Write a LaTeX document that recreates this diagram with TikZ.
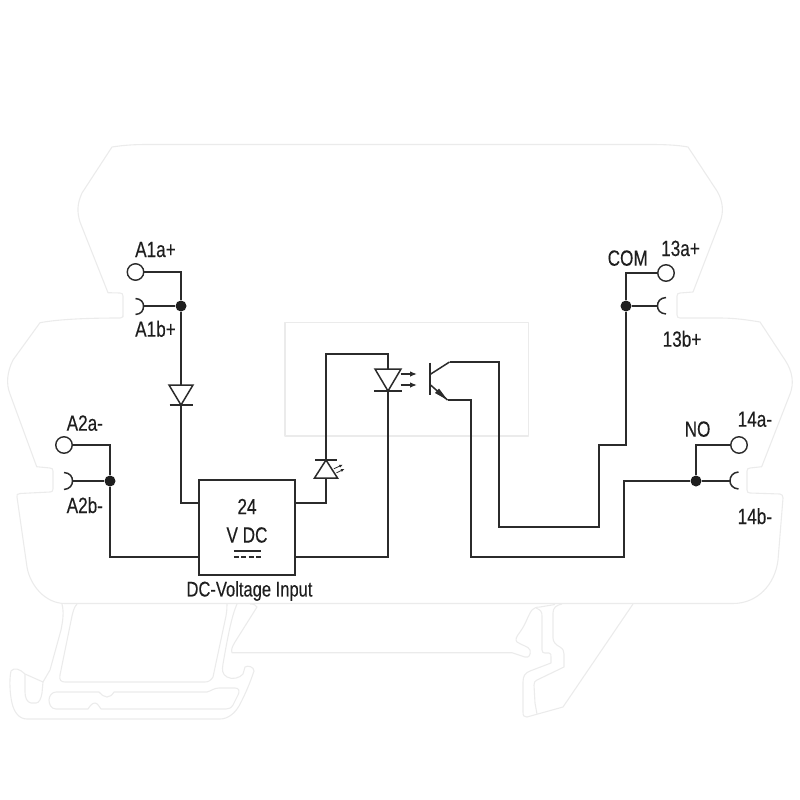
\documentclass[tikz,border=0pt]{standalone}
\usepackage{fontspec}
\setmainfont[FakeStretch=0.78,FakeBold=0.25]{Liberation Sans}
\usetikzlibrary{arrows.meta}
\definecolor{ghost}{HTML}{EBEBEB}
\definecolor{ink}{HTML}{2B2B2B}
\definecolor{txt}{HTML}{1E1E1E}
\tikzset{
  wire/.style={draw=ink,line width=1.5pt,line join=miter},
  thin wire/.style={draw=ink,line width=1.5pt},
  ghostline/.style={draw=ghost,line width=1.1pt,line join=round},
  term/.style={circle,draw=ink,line width=1.4pt,fill=white,minimum size=16.5pt,inner sep=0pt},
  junction/.style={circle,fill=txt,minimum size=11pt,inner sep=0pt},
  lab/.style={anchor=base west,inner sep=0pt,text=txt,font=\fontsize{22}{22}\selectfont},
  ray/.style={draw=ink,line width=1.3pt,-{Latex[length=7pt,width=5.5pt]}},
  tinyray/.style={draw=ink,line width=.8pt,-{Latex[length=4pt,width=3pt]}}
}
\begin{document}
\begin{tikzpicture}[x=1pt,y=-1pt]
\useasboundingbox (0,0) rectangle (800,800);
% housing outline
\draw[ghostline] (123,317) -- (123,296) .. controls (123,294) and (122,293) .. (120,293) -- (108,292.7)
  -- (80,222) .. controls (77,212) and (77,204) .. (82,193) -- (112,147)
  .. controls (125,145) and (135,144.5) .. (148,144.5) -- (650,144.5)
  .. controls (665,144.5) and (677,145) .. (688,147) -- (717,191)
  .. controls (723,201) and (724,212) .. (720,222) -- (693,292) -- (680,293)
  .. controls (678,293) and (677,294) .. (677,296) -- (677,315) .. controls (677,317) and (678,318) .. (680,318)
  -- (720,318) .. controls (735,318) and (748,320) .. (760,322) -- (785,360)
  .. controls (793,372) and (794,384) .. (790,394) -- (761.7,466.7) -- (750,468)
  .. controls (748,468) and (747,469) .. (747,471) -- (747,490) .. controls (747,492) and (748,493) .. (750,493)
  -- (780,494) .. controls (782,494) and (783,496) .. (783,498) -- (778,560)
  .. controls (775,585) and (757,603.5) .. (733,603.5) -- (65,603.5)
  .. controls (45,603.5) and (30,585) .. (27,567) -- (17,497) .. controls (16.5,495) and (17,493.5) .. (20,493.5)
  -- (50,492) .. controls (52,492) and (53,491) .. (53,489) -- (53,471) .. controls (53,469) and (52,468) .. (50,468)
  -- (36.7,466.7) -- (10,394) .. controls (6,384) and (7,372) .. (13,360) -- (40,322.7)
  .. controls (60,319) and (90,318) .. (120,318) .. controls (122,318) and (123,317) .. (123,315);
% inner window
\draw[ghostline] (285,322.5) rectangle (528.5,436);
% foot, left
\draw[ghostline] (62,604) .. controls (64,612) and (63,620) .. (61,630) -- (50,670) -- (43,682)
  -- (25,674) .. controls (20,669) and (14,667) .. (11,671) .. controls (9,680) and (10,695) .. (12,703)
  .. controls (14,712) and (19,719) .. (27,719) -- (220,719) .. controls (228,719) and (235,713) .. (239,706)
  .. controls (245,695) and (250,683) .. (254,671) .. controls (254,667) and (248,665) .. (245,667)
  .. controls (244,669) and (244,672) .. (243,674) .. controls (240,678) and (232,680) .. (227,677)
  .. controls (222,674) and (222,670) .. (223,664) .. controls (228,635) and (232,615) .. (237,604);
\draw[ghostline] (25,674) -- (25,692) .. controls (25,698) and (27,702) .. (31,703) -- (36,703)
  .. controls (39,703) and (41,699) .. (42,693) -- (43,682);
\draw[ghostline] (77,604) .. controls (74,607) and (73,612) .. (72,616) -- (60,675)
  .. controls (59,680) and (61,682) .. (65,682) -- (205,682) .. controls (209,682) and (211,680) .. (213,677)
  -- (226,616) .. controls (227,610) and (227,607) .. (227,604);
\draw[ghostline] (56,692) -- (99,692) .. controls (102,695) and (104,697) .. (107,697)
  .. controls (110,697) and (112,695) .. (114,692) -- (207,692) .. controls (211,691) and (214,688) .. (219,688)
  -- (235,688) .. controls (239,688) and (240,691) .. (238,695) -- (233,705)
  .. controls (231,708) and (229,709) .. (226,709) -- (101,709) .. controls (99,706) and (97,703) .. (95,703)
  .. controls (92,703) and (90,706) .. (88,709) -- (56,709) .. controls (51,709) and (49,704) .. (49,700)
  .. controls (49,696) and (52,692) .. (56,692) -- cycle;
% foot, right
\draw[ghostline] (250,604) .. controls (254,604) and (256,605) .. (257,607) -- (235,642)
  .. controls (232,647) and (231,650) .. (232,652.7) -- (512,652.7) -- (525,657)
  .. controls (529,658) and (531,655) .. (530,650) .. controls (528,646) and (523,646) .. (517,642)
  .. controls (515,640) and (516,637) .. (520,632) .. controls (526,624) and (528,615) .. (532,610)
  .. controls (534,608) and (536,607) .. (540,607) -- (555,604.5);
\draw[ghostline] (536,608) .. controls (541,610) and (542,612) .. (542,616) -- (542,650)
  .. controls (542,652) and (543,653) .. (545,653) -- (549,653) .. controls (551,653) and (551,655) .. (551,657)
  -- (551,663) -- (530,671) .. controls (525,673) and (523,676) .. (523,682) -- (523,712)
  .. controls (523,716) and (524,717) .. (527,717);
\draw[ghostline] (562,604) .. controls (556,605) and (553,608) .. (553,613) -- (553,638)
  .. controls (553,642) and (556,645) .. (560,647) .. controls (563,649) and (564,651) .. (564,654)
  -- (564,667) -- (537,680) .. controls (535,681) and (534,682) .. (534,685) -- (535,703) -- (537,714);
\draw[ghostline] (633,604) -- (563,707) -- (527,717);

\begin{scope}[shift={(0.5,-0.5)}]
% terminals and junctions
\node[term] (a1a) at (135,272.5) {};
\node[term] (a2a) at (63.5,445.5) {};
\node[term] (t13a) at (665.5,273.5) {};
\node[term] (t14a) at (738.5,445.5) {};
\node[junction] (ja1) at (180.5,306.5) {};
\node[junction] (ja2) at (109.5,481.5) {};
\node[junction] (jcom) at (625.5,306.5) {};
\node[junction] (jno) at (695.5,481.5) {};
\coordinate (a1b) at (143,306.5);
\coordinate (a2b) at (72,481.5);
\coordinate (t13b) at (657,306.5);
\coordinate (t14b) at (729.5,481.5);
\draw[thin wire] (135,299) .. controls (141,299.5) and (143,303) .. (a1b) .. controls (143,311) and (141,314.5) .. (135,315);
\draw[thin wire] (63.5,473) .. controls (69.5,473.5) and (72,477) .. (a2b) .. controls (72,485.5) and (69.5,489.5) .. (63.5,490);
\draw[thin wire] (665.5,298) .. controls (659.5,298.5) and (657,302) .. (t13b) .. controls (657,310.5) and (659.5,314) .. (665.5,314.5);
\draw[thin wire] (738,472.5) .. controls (732,473) and (729.5,477) .. (t14b) .. controls (729.5,485) and (732,489) .. (738,489.5);

% module box
\node[draw=ink,line width=1.5pt,fill=white,minimum width=96pt,minimum height=95pt,inner sep=0pt] (box) at (246.5,528) {};
\coordinate (dcl) at (233.3,551.5);
\coordinate (dcr) at (260.7,551.5);
\coordinate (acl) at (233.3,557.5);
\coordinate (acr) at (260.7,557.5);
\draw[thin wire] (dcl) -- (dcr);
\draw[thin wire,dash pattern=on 5.2pt off 2.2pt] (acl) -- (acr);

% diodes
\coordinate (d1a) at (180.5,385.5);
\coordinate (d1k) at (180.5,405.5);
\draw[thin wire] (168.5,385.5) -- (192.5,385.5) -- (d1k) -- cycle;
\draw[thin wire] (169,405.5) -- (192,405.5);
\coordinate (d2a) at (325.5,478.5);
\coordinate (d2k) at (325.5,460.5);
\draw[thin wire] (314,478.5) -- (337,478.5) -- (d2k) -- cycle;
\draw[thin wire] (314.5,460.5) -- (336,460.5);
\coordinate (d3a) at (387.5,369.5);
\coordinate (d3k) at (387.5,391.5);
\draw[thin wire] (374.5,369.5) -- (400.5,369.5) -- (d3k) -- cycle;
\draw[thin wire] (373.5,391.5) -- (401.5,391.5);
\draw[ray] (400,374.5) -- (416.5,374.5);
\draw[ray] (400,385.5) -- (416.5,385.5);
\draw[tinyray] (333.3,469.3) -- (342.7,465);
\draw[tinyray] (336,473.3) -- (344.3,469.3);

% transistor
\coordinate (bt) at (429.5,363);
\coordinate (bb) at (429.5,395);
\coordinate (col) at (449,362.5);
\coordinate (emi) at (447,400.5);
\draw[wire] (bt) -- (bb);
\draw[thin wire] (429.5,375) -- (col);
\draw[thin wire] (429.5,385) -- (emi);
\fill[ink] (emi) -- (434.5,393.5) -- (438.5,389) -- cycle;

% wiring
\draw[wire] (a1a) -| (ja1);
\draw[thin wire] (a1b) -- (ja1);
\draw[wire] (ja1) -- (d1a);
\draw[wire] (d1k) -- (180.5,503.5) -- (box.west |- 0,503.5);
\draw[wire] (a2a) -| (ja2);
\draw[thin wire] (a2b) -- (ja2);
\draw[wire] (ja2) -- (109.5,557.5) -- (box.west |- 0,557.5);
\draw[wire] (box.east |- 0,503.5) -- (325.5,503.5) -- (d2a);
\draw[wire] (d2k) -- (325.5,354.5) -- (387.5,354.5) -- (d3a);
\draw[wire] (d3k) -- (387.5,557.5) -- (box.east |- 0,557.5);
\draw[wire] (col) -- (498.5,362.5) -- (498.5,527.5) -- (598.5,527.5) -- (598.5,445.5) -- (625.5,445.5) -- (jcom);
\draw[wire] (jcom) -- (625.5,273.5) -- (t13a);
\draw[thin wire] (jcom) -- (t13b);
\draw[wire] (emi) -- (470.5,400.5) -- (470.5,557.5) -- (623.5,557.5) -- (623.5,481.5) -- (jno);
\draw[wire] (jno) -- (t14b);
\draw[wire] (jno) -- (695.5,445.5) -- (t14a);
\end{scope}

% labels
\node[lab,anchor=center] (v24) at (247,506.5) {24};
\node[lab,anchor=center] (vdc) at (247,535) {V DC};
\node[lab,anchor=center,font=\fontsize{21.2}{22}\selectfont] (dcin) at (249.5,591) {DC-Voltage Input};
\node[lab] (la1a) at (135,257) {A1a+};
\node[lab] (la1b) at (135,336.7) {A1b+};
\node[lab] (la2a) at (66.5,430.7) {A2a-};
\node[lab] (la2b) at (66.5,513) {A2b-};
\node[lab] (lcom) at (607.5,265.7) {COM};
\node[lab] (l13a) at (661,256) {13a+};
\node[lab] (l13b) at (662.5,346.7) {13b+};
\node[lab] (lno) at (684.5,436.7) {NO};
\node[lab] (l14a) at (737.5,426.7) {14a-};
\node[lab] (l14b) at (737.5,524) {14b-};
\end{tikzpicture}
\end{document}
